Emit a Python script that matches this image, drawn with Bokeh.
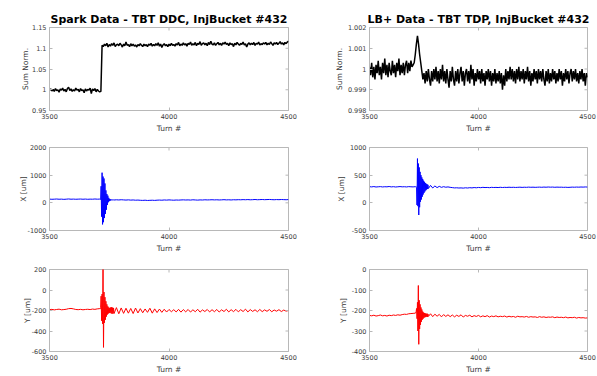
import math
from bokeh.plotting import figure
from bokeh.layouts import column, row
from bokeh.models import FixedTicker, CustomJSTickFormatter, Range1d, ColumnDataSource
from bokeh.embed import file_html
from bokeh.resources import INLINE

# ---------------- data ----------------
turns_sum = list(range(3500, 4501, 5))
turns_pos = list(range(3500, 3711, 10)) + list(range(3712, 3771, 2)) + list(range(3780, 4501, 10))

x_ticks = [3500, 4000, 4500]

spark_sum = [
    0.999, 1.002, 0.997, 1.001, 0.996, 1.003, 0.998, 1.000, 0.994, 1.002,
    0.999, 1.004, 0.997, 1.001, 0.995, 1.003, 1.006, 0.998, 1.002, 0.996,
    1.000, 0.997, 1.004, 0.999, 1.001, 0.995, 1.003, 0.998, 1.000, 0.993,
    1.002, 0.997, 1.001, 0.999, 1.004, 0.991, 1.002, 0.998, 1.003, 0.995,
    1.001, 0.997, 0.995, 0.996, 1.107, 1.104, 1.110, 1.106, 1.112, 1.103,
    1.109, 1.105, 1.111, 1.107, 1.113, 1.104, 1.108, 1.110, 1.106, 1.112,
    1.108, 1.103, 1.110, 1.106, 1.115, 1.107, 1.109, 1.104, 1.111, 1.106,
    1.110, 1.105, 1.108, 1.103, 1.109, 1.106, 1.111, 1.107, 1.104, 1.110,
    1.106, 1.109, 1.104, 1.110, 1.107, 1.112, 1.105, 1.109, 1.106, 1.111,
    1.107, 1.113, 1.105, 1.110, 1.102, 1.108, 1.111, 1.106, 1.109, 1.104,
    1.110, 1.106, 1.112, 1.107, 1.109, 1.105, 1.111, 1.108, 1.114, 1.106,
    1.110, 1.107, 1.113, 1.108, 1.111, 1.105, 1.112, 1.109, 1.115, 1.107,
    1.111, 1.108, 1.114, 1.106, 1.112, 1.109, 1.116, 1.107, 1.111, 1.113,
    1.108, 1.112, 1.106, 1.114, 1.109, 1.117, 1.110, 1.108, 1.113, 1.107,
    1.111, 1.114, 1.108, 1.112, 1.107, 1.113, 1.110, 1.115, 1.109, 1.112,
    1.106, 1.113, 1.109, 1.111, 1.104, 1.112, 1.108, 1.114, 1.110, 1.107,
    1.112, 1.109, 1.115, 1.108, 1.111, 1.103, 1.110, 1.113, 1.108, 1.112,
    1.109, 1.114, 1.107, 1.112, 1.110, 1.115, 1.108, 1.111, 1.109, 1.113,
    1.110, 1.114, 1.108, 1.112, 1.109, 1.115, 1.111, 1.107, 1.113, 1.110,
    1.114, 1.109, 1.112, 1.116, 1.110, 1.113, 1.108, 1.114, 1.111, 1.115,
    1.117,
]

lb_sum = [
    1.0001, 0.9997, 1.0003, 0.9996, 1.0001, 0.9995, 1.0002, 0.9998, 1.0004, 0.9997,
    1.0001, 0.9995, 1.0003, 0.9998, 1.0005, 0.9997, 1.0002, 0.9996, 1.0003, 0.9999,
    0.9997, 1.0004, 0.9998, 1.0002, 0.9996, 1.0003, 0.9999, 1.0005, 0.9997, 1.0002,
    0.9998, 1.0003, 0.9997, 1.0002, 1.0004, 0.9998, 1.0003, 0.9999, 1.0004, 1.0001,
    1.0002, 1.0003, 1.0007, 1.0012, 1.0016, 1.0012, 1.0007, 1.0003, 0.9999, 0.9995,
    0.9998, 0.9993, 0.9999, 0.9994, 1.0000, 0.9995, 0.9992, 0.9999, 0.9994, 1.0000,
    0.9995, 1.0001, 0.9994, 0.9999, 0.9993, 1.0000, 0.9995, 1.0002, 0.9994, 0.9999,
    0.9993, 1.0000, 0.9995, 0.9991, 0.9999, 0.9994, 1.0001, 0.9995, 0.9992, 0.9999,
    0.9994, 1.0000, 0.9993, 0.9998, 1.0001, 0.9994, 0.9999, 0.9992, 0.9998, 1.0000,
    0.9994, 0.9999, 0.9993, 1.0002, 0.9995, 1.0000, 0.9992, 0.9998, 0.9994, 1.0000,
    0.9995, 0.9999, 0.9993, 1.0000, 0.9994, 0.9998, 0.9992, 0.9999, 0.9995, 1.0000,
    0.9994, 0.9999, 0.9992, 0.9998, 0.9994, 1.0000, 0.9993, 0.9998, 0.9994, 0.9999,
    0.9993, 0.9998, 0.9990, 0.9997, 0.9992, 1.0000, 0.9994, 0.9999, 0.9995, 1.0001,
    0.9995, 1.0000, 0.9994, 0.9999, 0.9993, 1.0000, 0.9995, 1.0001, 0.9994, 0.9999,
    0.9995, 1.0000, 0.9993, 0.9999, 0.9995, 1.0001, 0.9994, 0.9999, 0.9992, 0.9998,
    0.9994, 1.0000, 0.9995, 0.9999, 0.9993, 1.0000, 0.9995, 0.9999, 0.9994, 1.0000,
    0.9995, 0.9992, 0.9999, 0.9994, 1.0000, 0.9993, 0.9998, 0.9994, 1.0000, 0.9995,
    0.9999, 0.9993, 0.9998, 0.9994, 1.0000, 0.9995, 0.9999, 0.9992, 0.9998, 0.9994,
    1.0000, 0.9995, 0.9999, 0.9993, 0.9998, 1.0000, 0.9994, 0.9999, 0.9995, 1.0000,
    0.9994, 0.9998, 0.9993, 0.9999, 0.9995, 1.0000, 0.9994, 0.9998, 0.9992, 0.9998,
    0.9996,
]

spark_x = [
    135, 128, 132, 138, 130, 134, 126, 132, 140, 131, 135, 129, 133, 137, 130, 136, 128, 134, 131, 139, 132, 135,
    130, 118, 600, -500, 1090, -780, 950, -700, 880, -550, 700, -400, 450, -250, 320, -80, 260, 20,
    180, 60, 140, 80, 125, 90, 115, 95, 110, 100, 108, 102,
    110, 104, 112, 106, 100, 108, 98, 104, 95, 100,
    92, 88, 95, 85, 90, 94, 88, 96, 100, 95,
    104, 98, 106, 100, 95, 102, 98, 104, 108, 102,
    106, 100, 110, 104, 98, 106, 102, 110, 105, 108,
    112, 106, 110, 104, 108, 114, 106, 110, 104, 112,
    108, 114, 110, 116, 112, 118, 110, 114, 120, 112,
    116, 120, 114, 118, 122, 116, 112, 118, 114, 120,
    116, 112, 118,
]

lb_x = [
    292, 288, 294, 286, 290, 293, 287, 291, 289, 295, 288, 292, 286, 290, 294, 289, 291, 287, 293, 290, 288, 292,
    290, 295, 280, -40, 800, -60, 710, -220, 640, -80, 560, 20, 500, 60, 460, 110, 430, 150,
    400, 180, 380, 205, 360, 225, 345, 240, 335, 250, 325, 258,
    315, 268, 305, 275, 298, 280, 292, 282, 288, 280,
    275, 270, 272, 268, 270, 266, 272, 268, 274, 270,
    276, 272, 278, 274, 280, 276, 278, 274, 280, 277,
    279, 276, 281, 277, 280, 278, 282, 279, 281, 278,
    280, 283, 279, 282, 280, 284, 281, 283, 280, 282,
    284, 281, 285, 282, 286, 283, 285, 281, 284, 282,
    283, 280, 282, 279, 281, 284, 282, 285, 283, 286,
    284, 287, 285,
]

spark_y = [
    -192, -189, -194, -190, -187, -193, -191, -188, -182, -180, -184, -190, -192, -189, -193, -190, -188, -191, -186, -189, -184, -182,
    -185, -170, -60, -300, -40, -330, 240, -560, -20, -320, -70, -290, -110, -260, -140, -240, -160, -230,
    -170, -225, -175, -222, -170, -228, -168, -232, -172, -228, -175, -230,
    -172, -232, -175, -228, -178, -226, -180, -230, -176, -224,
    -182, -222, -185, -218, -178, -226, -184, -220, -186, -218,
    -188, -215, -190, -212, -192, -214, -189, -216, -191, -213,
    -190, -215, -193, -212, -188, -216, -194, -210, -190, -214,
    -192, -212, -190, -215, -193, -210, -188, -214, -192, -211,
    -189, -213, -192, -210, -187, -214, -191, -209, -193, -212,
    -190, -211, -194, -208, -191, -212, -195, -207, -192, -210,
    -196, -206, -200,
]

lb_y = [
    -224, -226, -223, -227, -225, -222, -226, -224, -227, -223, -225, -222, -224, -221, -223, -220, -218, -219, -216, -215, -214, -213,
    -212, -205, -190, -240, -160, -300, -78, -365, -150, -290, -170, -270, -185, -255, -195, -245, -205, -240,
    -210, -235, -212, -233, -214, -232, -216, -230, -215, -231, -217, -229,
    -216, -230, -218, -228, -219, -231, -220, -229, -221, -230,
    -222, -231, -223, -229, -221, -232, -224, -228, -223, -231,
    -225, -229, -224, -231, -226, -230, -225, -232, -227, -230,
    -226, -231, -228, -230, -227, -232, -228, -231, -229, -233,
    -228, -231, -230, -232, -229, -233, -230, -232, -231, -234,
    -230, -233, -231, -234, -232, -233, -231, -235, -232, -234,
    -233, -235, -232, -236, -234, -235, -233, -237, -234, -236,
    -235, -237, -236,
]

sum_ticks_spark = [0.95, 1, 1.05, 1.1, 1.15]
sum_ticks_lb = [0.998, 0.999, 1, 1.001, 1.002]
x_ticks_spark = [-1000, 0, 1000, 2000]
x_ticks_lb = [-500, 0, 500, 1000]
y_ticks_spark = [-600, -400, -200, 0, 200]
y_ticks_lb = [-400, -300, -200, -100, 0]

title_spark = "Spark Data - TBT DDC, InjBucket #432"
title_lb = "LB+ Data - TBT TDP, InjBucket #432"

# ---------------- styling ----------------
FONT = "DejaVu Sans"
BOX = "#b8b8b8"
TXT = "#3a3a3a"
fmt_code = "return String(Number(tick.toFixed(6)));"


def style_axis(ax, ticks):
    ax.ticker = FixedTicker(ticks=ticks)
    ax.formatter = CustomJSTickFormatter(code=fmt_code)
    ax.axis_line_color = BOX
    ax.major_tick_line_color = BOX
    ax.major_tick_in = 3
    ax.major_tick_out = 0
    ax.minor_tick_line_color = None
    ax.major_label_text_font = FONT
    ax.major_label_text_color = TXT
    ax.major_label_text_font_size = "6.5px"
    ax.major_label_standoff = 3
    ax.axis_label_text_font = FONT
    ax.axis_label_text_font_size = "7.5px"
    ax.axis_label_text_font_style = "normal"
    ax.axis_label_text_color = TXT


def panel(xs, ys, color, lw, ylabel, yticks, width, height, bl, br, bt, bb, title=None, ystand=0):
    p = figure(width=width, height=height, output_backend="svg", toolbar_location=None,
               x_range=Range1d(x_ticks[0], x_ticks[-1]), y_range=Range1d(yticks[0], yticks[-1]),
               min_border_left=bl, min_border_right=br, min_border_top=bt, min_border_bottom=bb,
               title=title)
    p.grid.visible = False
    p.outline_line_color = BOX
    p.outline_line_width = 1
    p.background_fill_color = "white"
    p.border_fill_color = "white"
    src = ColumnDataSource(dict(t=xs, v=ys))
    p.line("t", "v", source=src, line_color=color, line_width=lw)
    style_axis(p.xaxis[0], x_ticks)
    style_axis(p.yaxis[0], yticks)
    p.xaxis[0].axis_label = "Turn #"
    p.xaxis[0].axis_label_standoff = 2
    p.yaxis[0].axis_label = ylabel
    p.yaxis[0].axis_label_standoff = ystand
    # inward tick marks on the top and right edges of the box (clipped to the frame)
    p.scatter(x=x_ticks, y=[yticks[-1]] * len(x_ticks), marker="dash", size=6,
              angle=math.pi / 2, line_color=BOX, line_width=1)
    p.scatter(x=[x_ticks[-1]] * len(yticks), y=yticks, marker="dash", size=6,
              line_color=BOX, line_width=1)
    if title:
        p.title.text_font = FONT
        p.title.text_font_size = "11px"
        p.title.text_font_style = "bold"
        p.title.text_color = "black"
        p.title.align = "center"
        p.title.standoff = 3
    return p


LW, RW = 300, 297
f1 = panel(turns_sum, spark_sum, "black", 1.5, "Sum Norm.", sum_ticks_spark, LW, 135, 49, 12, 27, 23, title=title_spark, ystand=-1)
f2 = panel(turns_sum, lb_sum, "black", 1.5, "Sum Norm.", sum_ticks_lb, RW, 135, 69, 10, 27, 23, title=title_lb, ystand=1)
f3 = panel(turns_pos, spark_x, "#0000ff", 1.0, "X [um]", x_ticks_spark, LW, 120, 49, 12, 12, 23, ystand=-3)
f4 = panel(turns_pos, lb_x, "#0000ff", 1.0, "X [um]", x_ticks_lb, RW, 120, 69, 10, 12, 23, ystand=1)
f5 = panel(turns_pos, spark_y, "#ff0000", 1.0, "Y [um]", y_ticks_spark, LW, 121, 49, 12, 14, 22, ystand=-3)
f6 = panel(turns_pos, lb_y, "#ff0000", 1.0, "Y [um]", y_ticks_lb, RW, 121, 69, 10, 14, 22, ystand=1)

layout = column(row(f1, f2), row(f3, f4), row(f5, f6))

open("out.html", "w").write(file_html(layout, INLINE))
